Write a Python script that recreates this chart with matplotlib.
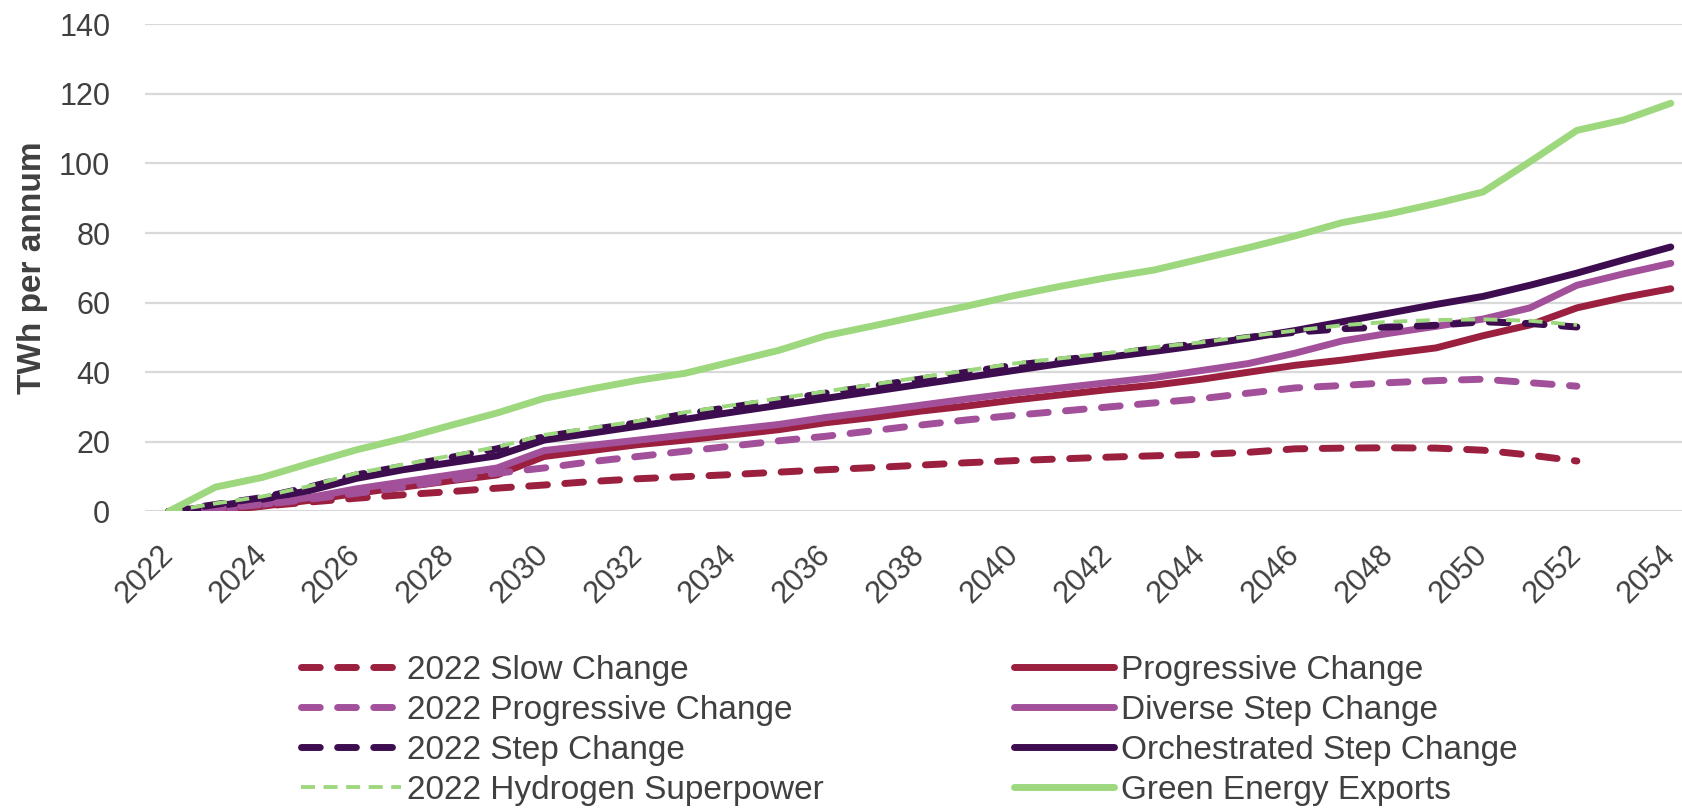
import matplotlib
matplotlib.use("Agg")
import matplotlib.pyplot as plt
import matplotlib.transforms as mtransforms
import numpy as np

plt.rcParams['font.family'] = ['Liberation Sans', 'DejaVu Sans']

years = list(range(2022, 2055))
years_2022 = list(range(2022, 2053))

slow_2022 = [0, 0.5, 1.5, 2.7, 3.8, 4.8, 5.7, 6.7, 7.6, 8.6, 9.4, 10.0, 10.6, 11.3, 12.0, 12.6,
             13.3, 14.0, 14.6, 15.1, 15.6, 16.0, 16.4, 17.0, 18.0, 18.2, 18.3, 18.2, 17.6, 16.2, 14.5]
prog_2022 = [0, 0.8, 2.0, 3.5, 5.2, 7.0, 9.0, 11.0, 12.5, 14.3, 15.8, 17.3, 18.8, 20.3, 21.6, 23.2,
             24.8, 26.3, 27.6, 28.8, 30.0, 31.2, 32.4, 34.0, 35.5, 36.2, 37.0, 37.6, 38.0, 37.0, 36.0]
step_2022 = [0, 2.0, 4.0, 7.0, 10.5, 13.0, 15.5, 18.0, 21.5, 23.5, 25.5, 28.0, 30.0, 32.0, 34.0, 36.0,
             38.0, 40.0, 42.0, 43.5, 45.0, 46.8, 48.3, 50.0, 51.5, 52.5, 53.0, 53.5, 54.5, 54.0, 53.0]
hydrogen_2022 = [0, 2.3, 4.3, 7.3, 11.0, 13.5, 16.0, 18.5, 22.0, 24.0, 26.0, 28.5, 30.5, 32.5, 34.5, 36.5,
                 38.5, 40.5, 42.5, 44.0, 45.5, 47.2, 48.6, 50.3, 52.0, 53.5, 54.5, 55.0, 55.2, 54.8, 53.6]

progressive = [0, 0.3, 1.5, 3.2, 5.2, 7.0, 8.8, 10.5, 15.8, 17.5, 19.2, 20.5, 22.0, 23.5, 25.5, 27.0,
               28.8, 30.3, 32.0, 33.5, 35.0, 36.3, 38.0, 40.0, 42.0, 43.5, 45.3, 47.0, 50.5, 53.6, 58.5, 61.5, 64.0]
diverse = [0, 0.5, 2.0, 4.0, 6.5, 8.5, 10.5, 12.5, 17.5, 19.0, 20.5, 22.0, 23.5, 25.0, 27.0, 28.7,
           30.5, 32.3, 34.0, 35.5, 37.0, 38.5, 40.5, 42.5, 45.5, 49.0, 51.2, 53.2, 55.3, 58.5, 65.0, 68.3, 71.3]
orchestrated = [0, 1.5, 3.5, 6.0, 9.5, 12.0, 14.0, 16.0, 20.5, 22.5, 24.5, 26.5, 28.5, 30.5, 32.5, 34.5,
                36.5, 38.5, 40.5, 42.5, 44.3, 46.0, 47.8, 49.8, 52.0, 54.5, 57.0, 59.5, 61.8, 65.0, 68.5, 72.3, 76.0]
green_exports = [0, 7.0, 9.8, 13.8, 17.7, 21.0, 24.7, 28.3, 32.5, 35.2, 37.7, 39.7, 43.0, 46.3, 50.5, 53.3,
                 56.2, 59.0, 62.0, 64.7, 67.2, 69.4, 72.6, 75.8, 79.2, 83.0, 85.5, 88.5, 91.8, 100.5, 109.5, 112.5, 117.3]

labels = ["2022 Slow Change", "2022 Progressive Change", "2022 Step Change", "2022 Hydrogen Superpower",
          "Progressive Change", "Diverse Step Change", "Orchestrated Step Change", "Green Energy Exports"]
tick_years = list(range(2022, 2055, 2))

crimson = "#9B1F3E"
magenta = "#A3509B"
purple = "#3E0D50"
green = "#9DD87E"
text_col = "#404040"

fig = plt.figure(figsize=(16.83, 8.08), dpi=100)
ax = fig.add_axes([0.0862, 0.367, 0.9138, 0.603])

lw = 5.0
thick_dash = (2.7, 2.5)
h_slow, = ax.plot(years_2022, slow_2022, color=crimson, lw=lw, dashes=thick_dash,
                  dash_capstyle='round', zorder=3)
h_p22, = ax.plot(years_2022, prog_2022, color=magenta, lw=lw, dashes=thick_dash,
                 dash_capstyle='round', zorder=3)
h_prog, = ax.plot(years, progressive, color=crimson, lw=lw, solid_capstyle='round', zorder=2)
h_div, = ax.plot(years, diverse, color=magenta, lw=lw, solid_capstyle='round', zorder=2.1)
h_orch, = ax.plot(years, orchestrated, color=purple, lw=lw, solid_capstyle='round', zorder=2.2)
h_s22, = ax.plot(years_2022, step_2022, color=purple, lw=lw, dashes=thick_dash,
                 dash_capstyle='round', zorder=3.1)
h_h22, = ax.plot(years_2022, hydrogen_2022, color=green, lw=2.8, dashes=(3.6, 2.2), zorder=3.2)
h_green, = ax.plot(years, green_exports, color=green, lw=lw, solid_capstyle='round', zorder=4)

ax.set_xlim(2021.5, 2054.26)
ax.set_ylim(0, 140)
ax.set_yticks(np.arange(0, 141, 20))
ax.set_xticks(tick_years)
ax.set_xticklabels([str(y) for y in tick_years], rotation=45, ha='right', va='center',
                   rotation_mode='anchor')
offset = mtransforms.ScaledTranslation(-6 / 100, 0, fig.dpi_scale_trans)
for lab in ax.get_xticklabels():
    lab.set_transform(lab.get_transform() + offset)
ax.grid(axis='y', color='#D9D9D9', lw=1.6, zorder=0)
ax.set_axisbelow(True)
for s in ax.spines.values():
    s.set_visible(False)
ax.tick_params(axis='both', length=0, labelsize=22, labelcolor=text_col)
ax.tick_params(axis='y', pad=25)
ax.tick_params(axis='x', pad=28)
ax.set_ylabel("TWh per annum", fontsize=24, fontweight='bold', color=text_col)
ax.yaxis.set_label_coords(-0.063, 0.5)

handles = [h_slow, h_p22, h_s22, h_h22, h_prog, h_div, h_orch, h_green]
leg = fig.legend(handles, labels, ncol=2, loc='upper left', bbox_to_anchor=(0.1786, 0.1896),
                 frameon=False, fontsize=24, handlelength=3.0, handletextpad=0.2,
                 columnspacing=5.7, labelspacing=0.27, borderpad=0, borderaxespad=0)
for t in leg.get_texts():
    t.set_color(text_col)

fig.savefig("out.png", dpi=100)
